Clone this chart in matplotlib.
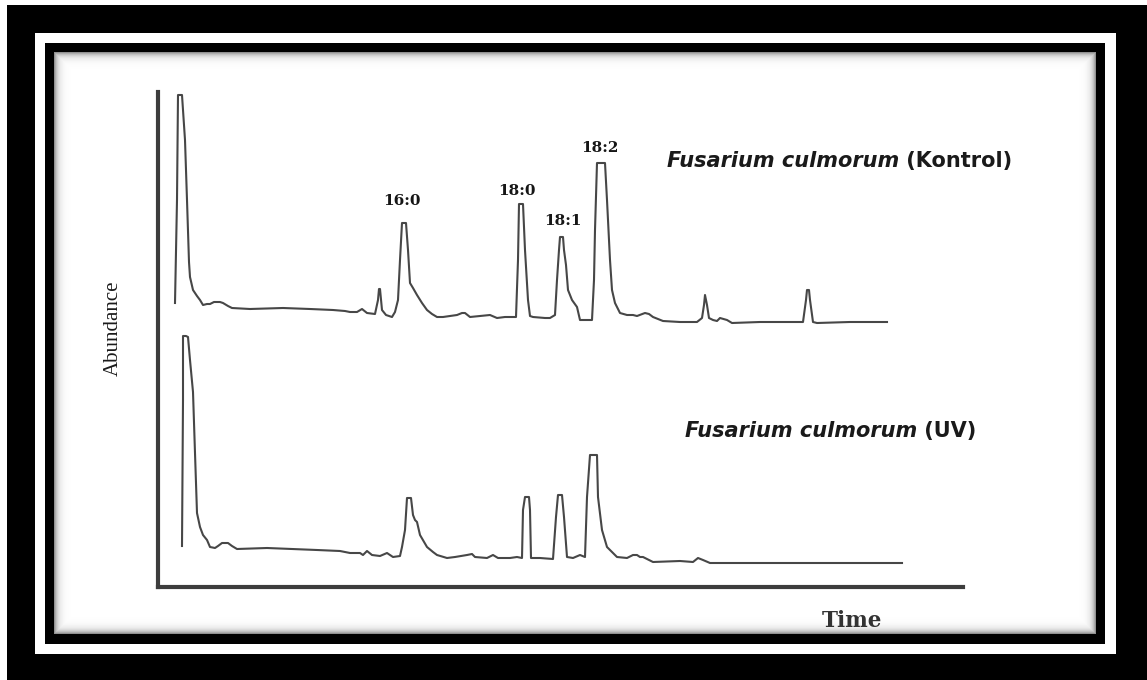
import numpy as np
import matplotlib
matplotlib.use("Agg")
import matplotlib.pyplot as plt

# Retention time (arbitrary units) and detector abundance for each trace
kontrol_time = [17, 19, 20, 24, 27, 29, 31, 32, 35, 39, 42, 45, 49, 52, 56, 59, 62, 65, 70, 74,
                92, 125, 152, 175, 187, 192, 199, 204, 209, 217, 220, 221, 222, 224, 228, 234,
                237, 240, 242, 244, 248, 250, 252, 255, 259, 264, 269, 274, 279, 285, 292, 299,
                304, 307, 312, 322, 332, 339, 347, 352, 358, 360, 361, 365, 367, 370, 372, 375,
                387, 392, 397, 399, 401, 402, 405, 406, 408, 410, 414, 419, 422, 434, 436, 437,
                439, 447, 449, 450, 452, 454, 457, 462, 469, 475, 479, 487, 491, 495, 505, 522,
                539, 544, 546, 547, 549, 551, 555, 559, 562, 569, 574, 602, 645, 648, 649, 651,
                652, 655, 659, 692, 729]
kontrol_abund = [284, 387, 492, 492, 447, 387, 325, 310, 297, 291, 287, 282, 283, 283, 285, 285,
                 285, 284, 281, 279, 278, 279, 278, 277, 276, 275, 275, 278, 274, 273, 287, 298,
                 298, 277, 272, 270, 275, 287, 327, 364, 364, 337, 304, 299, 292, 284, 277, 273,
                 270, 270, 271, 272, 274, 274, 270, 271, 272, 269, 270, 270, 270, 327, 383, 383,
                 337, 287, 271, 270, 269, 269, 272, 307, 337, 350, 350, 337, 322, 297, 287, 280,
                 267, 267, 307, 357, 424, 424, 387, 367, 327, 297, 284, 274, 272, 272, 271, 274,
                 273, 270, 266, 265, 265, 269, 282, 292, 282, 269, 267, 266, 269, 267, 264, 265,
                 265, 287, 297, 297, 287, 265, 264, 265, 265]

uv_time = [24, 25, 25, 28, 30, 32, 35, 37, 39, 42, 45, 49, 52, 57, 60, 64, 70, 74, 79, 109, 159,
           182, 192, 202, 205, 209, 214, 222, 229, 235, 242, 244, 247, 249, 253, 255, 257, 259,
           262, 269, 275, 279, 289, 297, 309, 314, 317, 329, 335, 340, 352, 359, 364, 365, 367,
           371, 372, 373, 382, 395, 398, 400, 404, 406, 409, 415, 422, 427, 429, 432, 439, 440,
           444, 449, 459, 469, 475, 479, 482, 485, 495, 522, 535, 540, 545, 552, 622, 744]
uv_abund = [41, 187, 251, 251, 250, 227, 195, 134, 74, 60, 52, 47, 40, 39, 41, 44, 44, 41, 38,
            39, 37, 36, 34, 34, 32, 36, 32, 31, 34, 30, 31, 40, 57, 89, 89, 72, 67, 65, 52, 40,
            35, 32, 29, 30, 32, 33, 30, 29, 32, 29, 29, 30, 29, 77, 90, 90, 77, 29, 29, 28, 70,
            92, 92, 70, 30, 29, 32, 30, 90, 132, 132, 90, 57, 40, 30, 29, 32, 32, 30, 30, 25, 26,
            25, 29, 27, 24, 24, 24]

# Fatty acid peak labels (Kontrol trace)
peak_labels = ["16:0", "18:0", "18:1", "18:2"]
peak_label_time = [244, 359, 405, 442]
peak_label_abund = [386, 396, 366, 439]

# Sample captions: species name, treatment, anchor position
caption_species = "Fusarium culmorum"
caption_treatments = [" (Kontrol)", " (UV)"]
caption_time = [509, 527]
caption_abund = [420, 150]

W, H = 1147, 680
fig = plt.figure(figsize=(W / 100, H / 100), dpi=100)

# Double black frame around a white panel with a soft inner shadow
bg = fig.add_axes([0, 0, 1, 1], zorder=0)
yy, xx = np.mgrid[0:H, 0:W] + 0.5
img = np.ones((H, W))


def box(x0, y0, x1, y1):
    return (xx >= x0) & (xx < x1) & (yy >= y0) & (yy < y1)


img[box(7, 5, W, H)] = 0.0
img[box(35, 33, 1116, 654)] = 1.0
img[box(45, 43, 1105, 644)] = 0.0
panel = box(54, 52, 1096, 634)
dist = np.minimum.reduce([xx - 54, 1096 - xx, yy - 52, 634 - yy])
shade = 1 - 0.5 * np.exp(-dist / 3.5)
img[panel] = shade[panel]
bg.imshow(img, cmap="gray", vmin=0, vmax=1, extent=(0, W, H, 0),
          interpolation="nearest", aspect="auto")
bg.set_xlim(0, W)
bg.set_ylim(H, 0)
bg.axis("off")

# Chromatogram axes
ax = fig.add_axes([158 / W, (H - 587) / H, (963 - 158) / W, (587 - 92) / H], zorder=2)
ax.patch.set_alpha(0)
ax.set_xlim(0, 805)
ax.set_ylim(0, 495)
for side in ("top", "right"):
    ax.spines[side].set_visible(False)
for side in ("left", "bottom"):
    ax.spines[side].set_linewidth(3.0)
    ax.spines[side].set_color("#3d3d3d")
    ax.spines[side].set_capstyle("projecting")
ax.set_xticks([])
ax.set_yticks([])

trace_style = dict(color="#474747", lw=1.5, solid_joinstyle="round")
ax.plot(kontrol_time, kontrol_abund, **trace_style)
ax.plot(uv_time, uv_abund, **trace_style)

for lab, t, a in zip(peak_labels, peak_label_time, peak_label_abund):
    ax.text(t, a, lab, ha="center", va="center", family="DejaVu Serif",
            fontweight="bold", fontsize=11, color="#161616")

for treat, t, a in zip(caption_treatments, caption_time, caption_abund):
    sp = ax.text(t, a, caption_species, ha="left", va="baseline", family="DejaVu Sans",
                 fontstyle="italic", fontweight="bold", fontsize=15, color="#1a1a1a",
                 clip_on=False)
    ax.annotate(treat, xy=(1, 0), xycoords=sp, ha="left", va="bottom",
                family="DejaVu Sans", fontweight="bold", fontsize=15, color="#1a1a1a",
                annotation_clip=False)

fig.text(113 / W, 1 - 328 / H, "Abundance", rotation=90, ha="center", va="center",
         family="Liberation Serif", fontsize=15, color="#1a1a1a")
fig.text(852 / W, 1 - 621 / H, "Time", ha="center", va="center",
         family="DejaVu Serif", fontweight="bold", fontsize=15.5, color="#333333")

fig.savefig("out.png", dpi=100)
